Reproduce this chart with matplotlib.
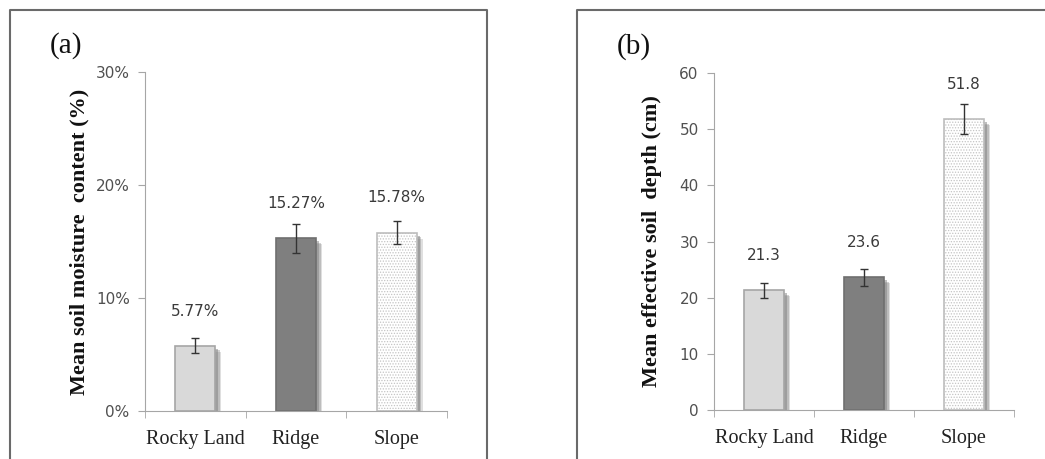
import matplotlib.pyplot as plt
import matplotlib.transforms as mtransforms
from matplotlib.lines import Line2D
import numpy as np

categories = ['Rocky Land', 'Ridge', 'Slope']

moisture = [5.77, 15.27, 15.78]
moisture_err = [0.65, 1.3, 1.0]
moisture_labels = ['5.77%', '15.27%', '15.78%']

depth = [21.3, 23.6, 51.8]
depth_err = [1.4, 1.5, 2.7]
depth_labels = ['21.3', '23.6', '51.8']

fills = ['#d9d9d9', '#7f7f7f', '#ffffff']
edges = ['#a6a6a6', '#6f6f6f', '#bdbdbd']

plt.rcParams['hatch.linewidth'] = 0.6

fig = plt.figure(figsize=(10.45, 4.59), dpi=100)

# panel frames (open at bottom)
W, H = 1045, 459
def frame(x0, x1):
    y0, y1 = 10, 459
    xs = [x0 / W, x0 / W, x1 / W, x1 / W]
    ys = [1 - y1 / H, 1 - y0 / H, 1 - y0 / H, 1 - y1 / H]
    fig.add_artist(Line2D(xs, ys, color='#6a6a6a', lw=1.5, transform=fig.transFigure))

frame(10, 487)
frame(577, 1050)


def panel(rect, values, errs, labels, ymax, step, ylabel, fmt, tag, tag_xy, ylab_x):
    ax = fig.add_axes(rect)
    x = np.arange(len(categories))
    # soft shadow behind bars
    for d, a in [(6, 0.25), (4.5, 0.35), (3, 0.5)]:
        sh = mtransforms.offset_copy(ax.transData, fig=fig, x=d * 0.72, y=-d * 0.72, units='points')
        ax.bar(x, values, width=0.4, color='#808080', alpha=a, lw=0, transform=sh, zorder=1)
    for i in range(len(x)):
        if i == 2:
            ax.bar(x[i], values[i], width=0.4, color='white', edgecolor='#c4c4c4',
                   hatch='......', lw=0, zorder=2)
            ax.bar(x[i], values[i], width=0.4, color='none', edgecolor=edges[i], lw=1.2, zorder=3)
        else:
            ax.bar(x[i], values[i], width=0.4, color=fills[i], edgecolor=edges[i], lw=1.2, zorder=2)
    ax.errorbar(x, values, yerr=errs, fmt='none', ecolor='#333333', elinewidth=1,
                capsize=3, capthick=1, zorder=4)
    for i in range(len(x)):
        ax.annotate(labels[i], (x[i], values[i]), xytext=(0, 25), textcoords='offset points',
                    ha='center', va='center', fontsize=11, color='#3a3a3a')
    ax.set_xlim(-0.5, 2.5)
    ax.set_ylim(0, ymax)
    ax.set_yticks(np.arange(0, ymax + step / 2, step))
    ax.yaxis.set_major_formatter(plt.FuncFormatter(fmt))
    ax.set_xticks(x)
    ax.set_xticklabels(categories, fontfamily='Liberation Serif', fontsize=14.5, color='#222222')
    ax.set_xticks([-0.5, 0.5, 1.5, 2.5], minor=True)
    ax.tick_params(axis='x', which='major', length=0, pad=14)
    ax.tick_params(axis='x', which='minor', length=5, color='#a6a6a6', direction='out')
    ax.tick_params(axis='y', length=5, color='#a6a6a6', labelsize=11, labelcolor='#505050', pad=6)
    for s in ['top', 'right']:
        ax.spines[s].set_visible(False)
    for s in ['left', 'bottom']:
        ax.spines[s].set_color('#a6a6a6')
    ax.set_ylabel(ylabel, fontfamily='Liberation Serif', fontweight='bold', fontsize=16,
                  color='#111111', va='center')
    ax.yaxis.set_label_coords(ylab_x, 0.5)
    fig.text(tag_xy[0] / W, 1 - tag_xy[1] / H, tag, fontfamily='Liberation Serif',
             fontsize=21, ha='center', va='center', color='#111111')
    return ax


panel([145 / W, 1 - 411 / H, 302 / W, 339 / H], moisture, moisture_err, moisture_labels,
      30, 10, 'Mean soil moisture  content (%)', lambda v, p: f'{v:.0f}%', '(a)',
      (66, 46), -66 / 302)
panel([714 / W, 1 - 410 / H, 300 / W, 337 / H], depth, depth_err, depth_labels,
      60, 10, 'Mean effective soil  depth (cm)', lambda v, p: f'{v:.0f}', '(b)',
      (634, 47), -62 / 300)

fig.savefig('out.png', dpi=100)
